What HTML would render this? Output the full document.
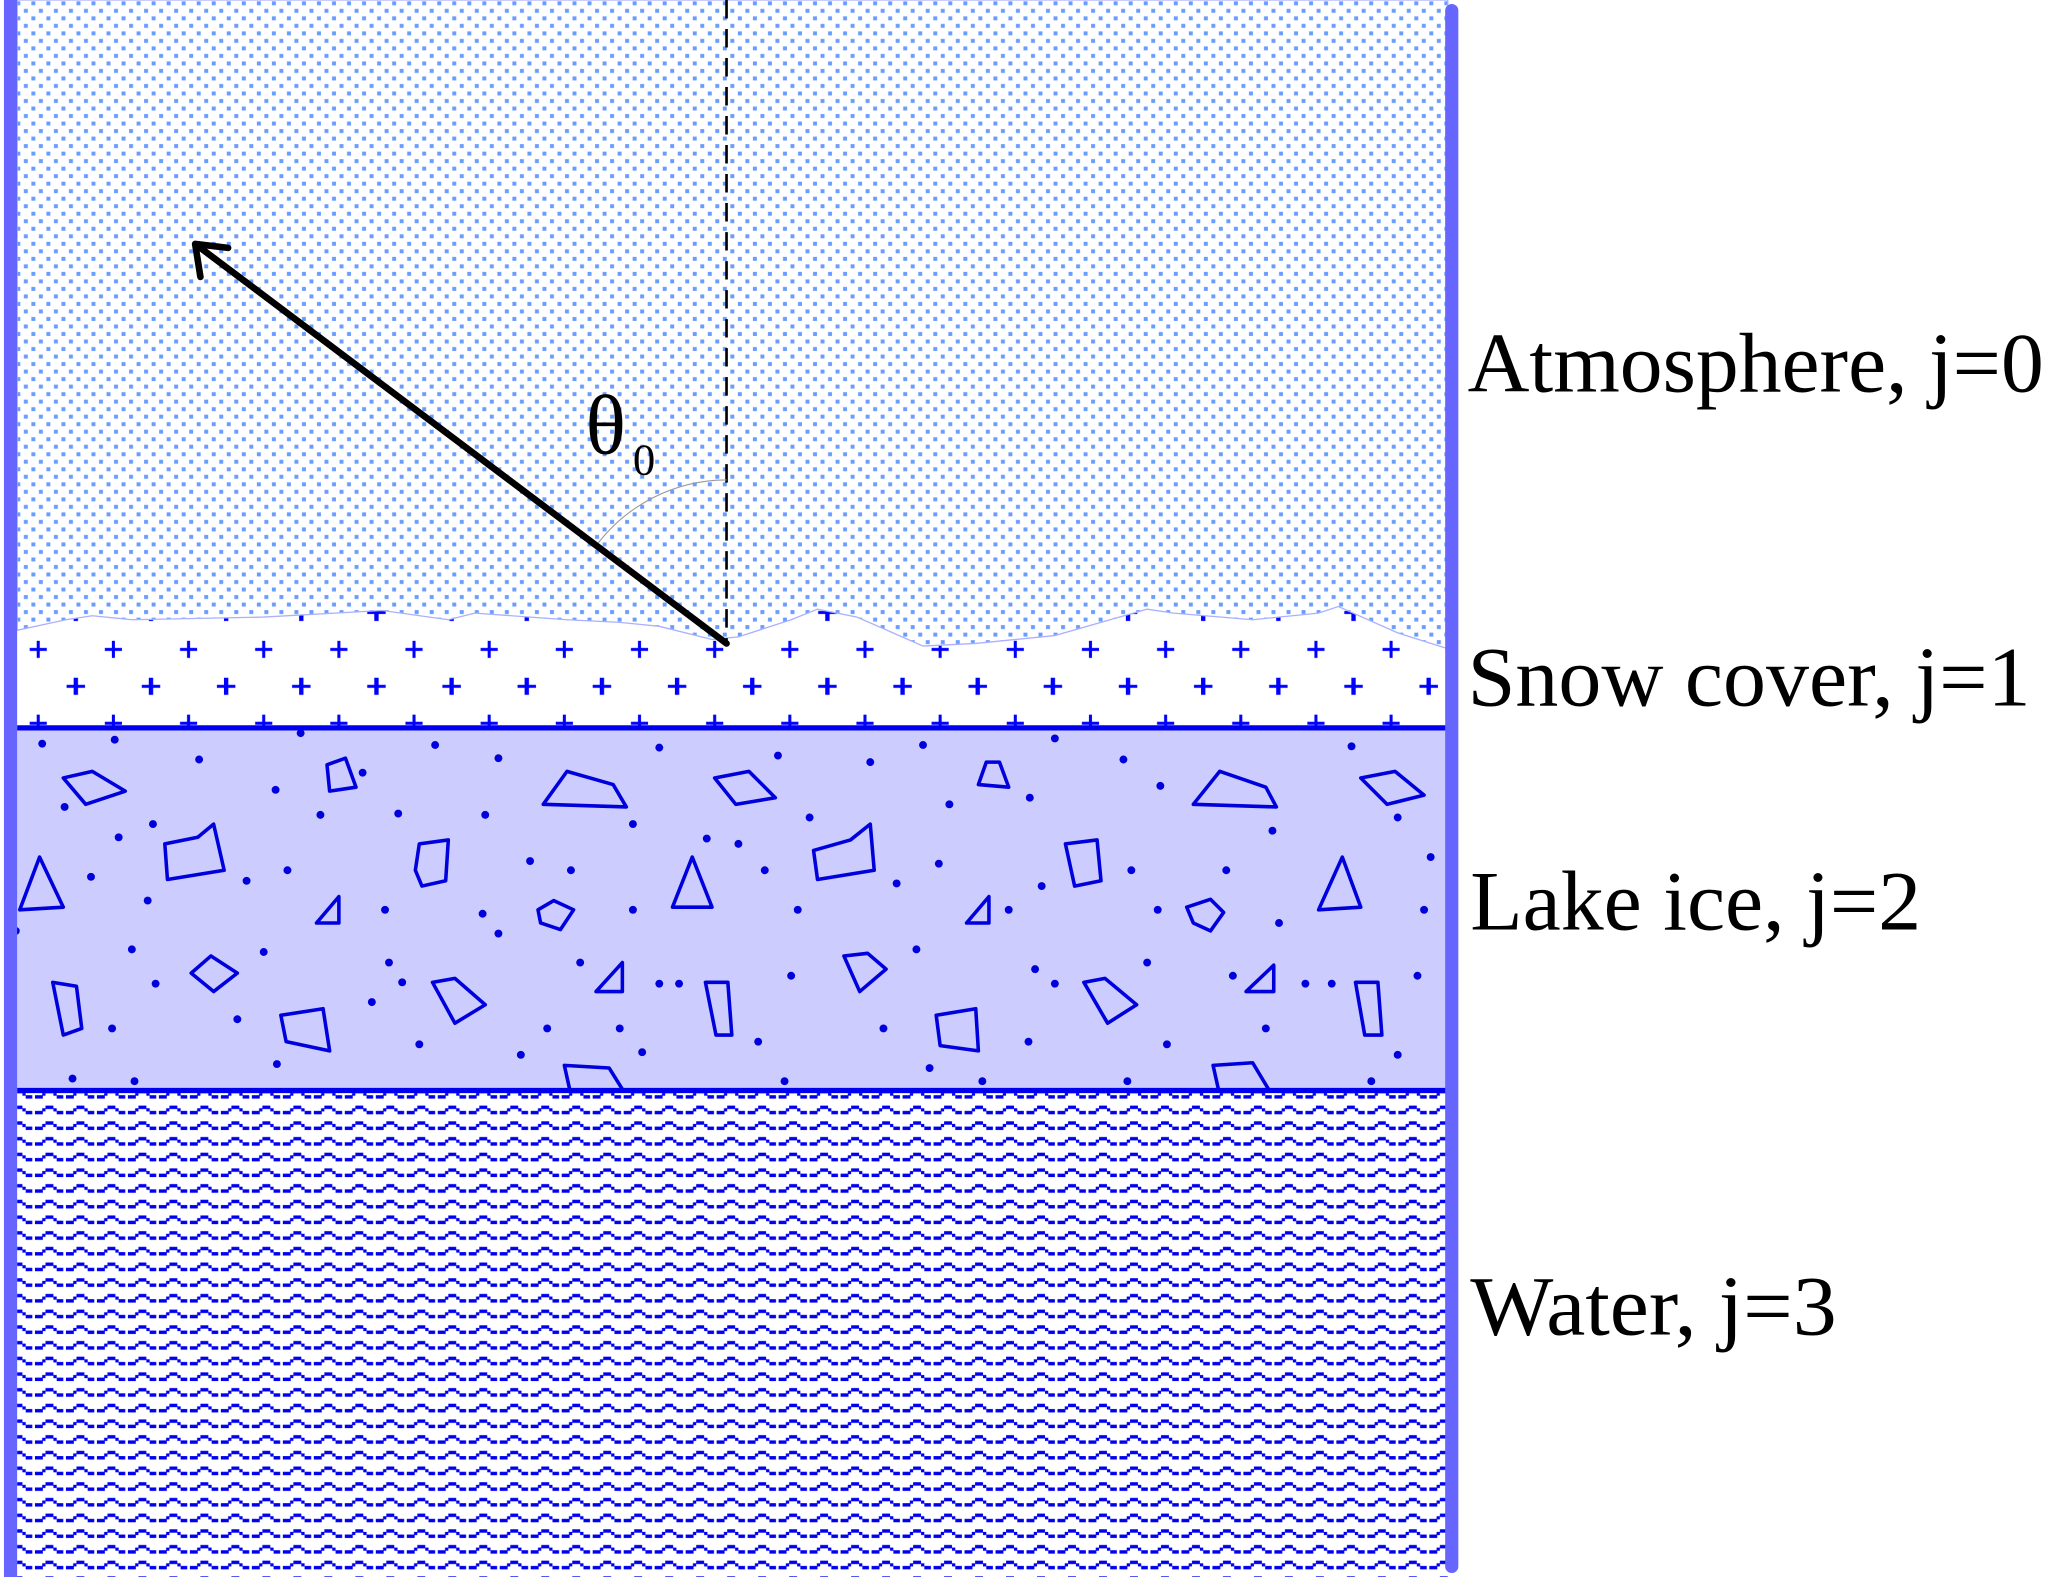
<!DOCTYPE html>
<html><head><meta charset="utf-8"><style>html,body{margin:0;padding:0;background:#fff}svg{display:block}</style></head>
<body>
<svg width="2067" height="1577" viewBox="0 0 1567.6 1196" preserveAspectRatio="none" xmlns="http://www.w3.org/2000/svg">
<defs>
<pattern id="atm" width="11.4" height="11.4" patternUnits="userSpaceOnUse">
<rect x="1" y="1" width="3" height="3" fill="#6a9cff"/>
<rect x="6.7" y="6.7" width="3" height="3" fill="#6a9cff"/>
</pattern>
<pattern id="wat" width="23.5" height="11.9" patternUnits="userSpaceOnUse" x="3" y="2">
<g fill="#0000ee">
<rect x="0" y="7.5" width="6" height="2.6"/>
<rect x="5.5" y="5.5" width="2.5" height="2.4"/>
<rect x="8" y="3.5" width="6" height="2.6"/>
<rect x="14" y="5.5" width="2.5" height="2.4"/>
<rect x="16.5" y="7.5" width="5" height="2.6"/>
</g>
</pattern>
<pattern id="snow" width="57" height="56" patternUnits="userSpaceOnUse" x="0" y="-18">
<path d="M29,0 v13 M22.5,6.5 h13 M57,28 v13 M50.5,34.5 h13 M1,28 v13 M-5.5,34.5 h13" stroke="#0000ff" stroke-width="2.3"/>
</pattern>
</defs>
<rect x="13" y="455" width="1085" height="98" fill="url(#snow)"/>
<path d="M13,0 H1098 V492 L1060,480 L1015,460 L1000,465 L950,470 L890,465 L870,462 L800,482 L740,488 L700,490 L650,468 L620,462 L600,470 L560,483 L540,485 L500,475 L470,472 L430,470 L360,465 L340,470 L290,463 L200,468 L100,470 L70,467 L50,470 L13,478 Z" fill="#fff"/>
<path d="M13,0 H1098 V492 L1060,480 L1015,460 L1000,465 L950,470 L890,465 L870,462 L800,482 L740,488 L700,490 L650,468 L620,462 L600,470 L560,483 L540,485 L500,475 L470,472 L430,470 L360,465 L340,470 L290,463 L200,468 L100,470 L70,467 L50,470 L13,478 Z" fill="url(#atm)" stroke="#aab0ff" stroke-width="1"/>
<rect x="13" y="552" width="1085" height="274" fill="#ccccff"/>
<g fill="none" stroke="#0000dd" stroke-width="2.7" stroke-linejoin="round">
<polygon points="48,590 70,585 95,600 65,610"/>
<polygon points="125,640 150,635 162,625 170,660 127,667"/>
<polygon points="248,580 262,575 270,597 250,600"/>
<polygon points="15,690 30,650 48,688"/>
<polygon points="240,700 257,680 257,700"/>
<polygon points="145,738 160,725 180,738 162,752"/>
<polygon points="40,745 58,748 62,780 48,785"/>
<polygon points="213,770 245,765 250,797 217,790"/>
<polygon points="318,640 340,637 338,668 320,672 315,660"/>
<polygon points="408,690 420,683 435,690 425,705 410,700"/>
<polygon points="328,745 345,742 368,762 345,776"/>
<polygon points="412,610 430,585 465,595 475,612"/>
<polygon points="452,752 472,730 472,752"/>
<polygon points="510,688 525,650 540,688"/>
<polygon points="535,745 552,745 555,785 543,785"/>
<polygon points="542,590 568,585 588,605 558,610"/>
<polygon points="617,645 645,637 660,625 663,660 620,667"/>
<polygon points="640,725 658,723 672,735 652,752"/>
<polygon points="710,770 740,765 742,797 713,793"/>
<polygon points="742,595 748,578 758,578 765,597"/>
<polygon points="733,700 750,680 750,700"/>
<polygon points="808,640 832,637 835,668 815,672"/>
<polygon points="822,745 838,742 862,762 840,776"/>
<polygon points="900,688 918,682 928,692 918,706 905,700"/>
<polygon points="905,610 925,585 960,597 968,612"/>
<polygon points="945,752 966,732 966,752"/>
<polygon points="1000,690 1018,650 1032,688"/>
<polygon points="1028,745 1045,745 1048,785 1035,785"/>
<polygon points="1032,590 1058,585 1080,603 1052,610"/>
<polyline points="432,826 428,808 462,810 472,826"/>
<polyline points="924,826 920,808 950,806 962,826"/>
</g>
<g fill="#0000dd">
<circle cx="32" cy="564" r="3"/><circle cx="87" cy="561" r="3"/><circle cx="151" cy="576" r="3"/><circle cx="209" cy="599" r="3"/><circle cx="228" cy="556" r="3"/><circle cx="275" cy="586" r="3"/><circle cx="302" cy="617" r="3"/><circle cx="49" cy="612" r="3"/><circle cx="116" cy="625" r="3"/><circle cx="90" cy="635" r="3"/><circle cx="243" cy="618" r="3"/><circle cx="368" cy="618" r="3"/><circle cx="378" cy="575" r="3"/><circle cx="330" cy="565" r="3"/><circle cx="402" cy="653" r="3"/><circle cx="433" cy="660" r="3"/><circle cx="480" cy="625" r="3"/><circle cx="500" cy="567" r="3"/><circle cx="536" cy="636" r="3"/><circle cx="69" cy="665" r="3"/><circle cx="112" cy="683" r="3"/><circle cx="187" cy="668" r="3"/><circle cx="218" cy="660" r="3"/><circle cx="292" cy="690" r="3"/><circle cx="366" cy="693" r="3"/><circle cx="480" cy="690" r="3"/><circle cx="12" cy="706" r="3"/><circle cx="100" cy="720" r="3"/><circle cx="118" cy="746" r="3"/><circle cx="200" cy="722" r="3"/><circle cx="295" cy="730" r="3"/><circle cx="305" cy="745" r="3"/><circle cx="378" cy="708" r="3"/><circle cx="440" cy="730" r="3"/><circle cx="500" cy="746" r="3"/><circle cx="515" cy="746" r="3"/><circle cx="470" cy="780" r="3"/><circle cx="395" cy="800" r="3"/><circle cx="318" cy="792" r="3"/><circle cx="180" cy="773" r="3"/><circle cx="85" cy="780" r="3"/><circle cx="55" cy="818" r="3"/><circle cx="102" cy="820" r="3"/><circle cx="210" cy="807" r="3"/><circle cx="282" cy="760" r="3"/><circle cx="415" cy="780" r="3"/><circle cx="487" cy="798" r="3"/><circle cx="590" cy="573" r="3"/><circle cx="614" cy="620" r="3"/><circle cx="660" cy="578" r="3"/><circle cx="700" cy="565" r="3"/><circle cx="720" cy="610" r="3"/><circle cx="781" cy="605" r="3"/><circle cx="800" cy="560" r="3"/><circle cx="852" cy="576" r="3"/><circle cx="880" cy="596" r="3"/><circle cx="965" cy="630" r="3"/><circle cx="1025" cy="566" r="3"/><circle cx="1060" cy="620" r="3"/><circle cx="1085" cy="650" r="3"/><circle cx="560" cy="640" r="3"/><circle cx="580" cy="660" r="3"/><circle cx="605" cy="690" r="3"/><circle cx="680" cy="670" r="3"/><circle cx="712" cy="655" r="3"/><circle cx="765" cy="690" r="3"/><circle cx="790" cy="672" r="3"/><circle cx="858" cy="660" r="3"/><circle cx="878" cy="690" r="3"/><circle cx="930" cy="660" r="3"/><circle cx="970" cy="700" r="3"/><circle cx="1080" cy="690" r="3"/><circle cx="600" cy="740" r="3"/><circle cx="695" cy="720" r="3"/><circle cx="785" cy="735" r="3"/><circle cx="800" cy="746" r="3"/><circle cx="870" cy="730" r="3"/><circle cx="935" cy="740" r="3"/><circle cx="990" cy="746" r="3"/><circle cx="1010" cy="746" r="3"/><circle cx="1075" cy="740" r="3"/><circle cx="575" cy="790" r="3"/><circle cx="670" cy="780" r="3"/><circle cx="705" cy="810" r="3"/><circle cx="780" cy="790" r="3"/><circle cx="885" cy="792" r="3"/><circle cx="960" cy="780" r="3"/><circle cx="1060" cy="800" r="3"/><circle cx="595" cy="820" r="3"/><circle cx="745" cy="820" r="3"/><circle cx="855" cy="820" r="3"/><circle cx="1040" cy="820" r="3"/>
</g>
<rect x="13" y="829" width="1085" height="367" fill="url(#wat)"/>
<line x1="13" y1="552" x2="1098" y2="552" stroke="#0000ee" stroke-width="4"/>
<line x1="13" y1="827" x2="1098" y2="827" stroke="#0000ee" stroke-width="4"/>
<rect x="3" y="0" width="10" height="1196" fill="#6666ff"/>
<rect x="1096" y="3" width="10" height="1190" rx="5" fill="#6666ff"/>
<line x1="551" y1="0" x2="551" y2="488" stroke="#000" stroke-width="2" stroke-dasharray="14,8"/>
<path d="M452,414 A124,124 0 0 1 551,364" fill="none" stroke="#999" stroke-width="0.8"/>
<line x1="551" y1="488" x2="152" y2="188" stroke="#000" stroke-width="5" stroke-linecap="round"/>
<polyline points="152,210 148,185 173,188" fill="none" stroke="#000" stroke-width="5" stroke-linecap="round" stroke-linejoin="round"/>
<g font-family="Liberation Serif, serif" fill="#000">
<text x="444" y="344" font-size="64">θ</text>
<text x="480" y="360" font-size="34">0</text>
<text x="1113" y="297" font-size="64" textLength="437" lengthAdjust="spacingAndGlyphs">Atmosphere, j=0</text>
<text x="1113" y="535" font-size="64" textLength="427" lengthAdjust="spacingAndGlyphs">Snow cover, j=1</text>
<text x="1115" y="705" font-size="64" textLength="342" lengthAdjust="spacingAndGlyphs">Lake ice, j=2</text>
<text x="1115" y="1012" font-size="64" textLength="278" lengthAdjust="spacingAndGlyphs">Water, j=3</text>
</g>
</svg>
</body></html>
